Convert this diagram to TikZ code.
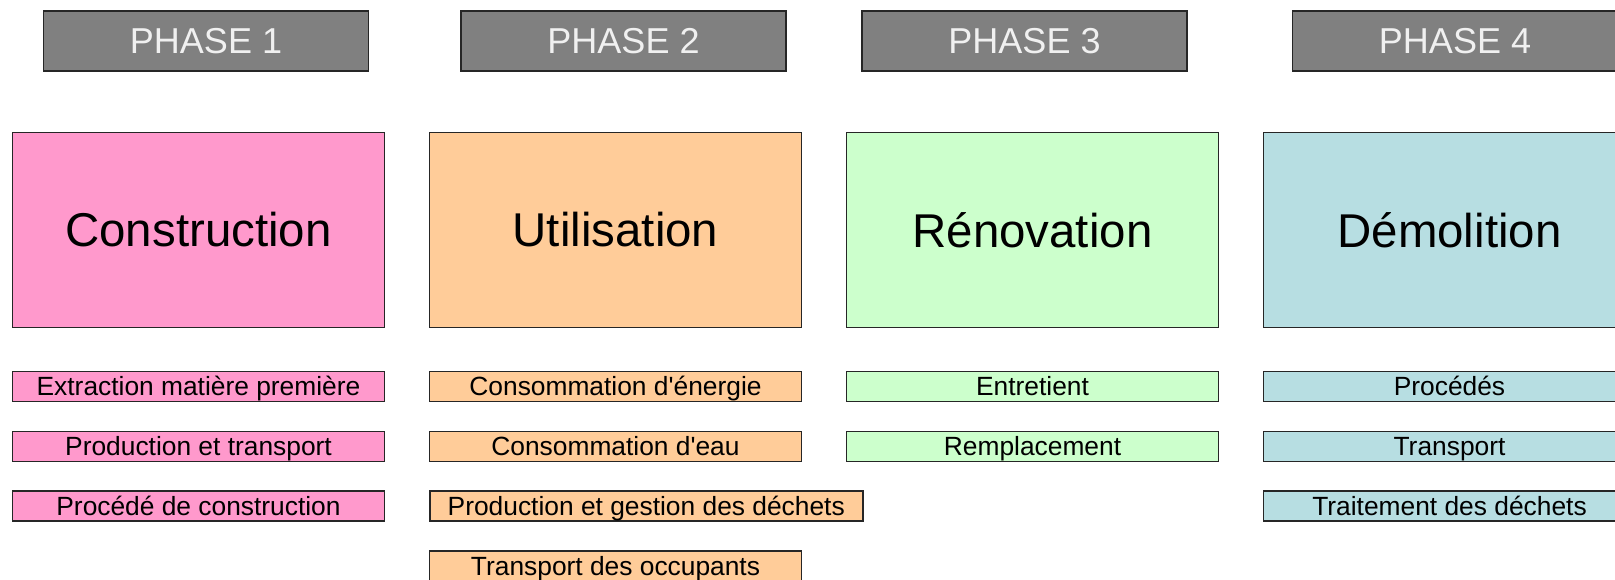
\documentclass[tikz,border=0pt]{standalone}
\usepackage{fontspec}
\setmainfont{Liberation Sans}
\usetikzlibrary{positioning}
\definecolor{phasegray}{HTML}{808080}
\definecolor{constrpink}{HTML}{FF99CC}
\definecolor{utilorange}{HTML}{FFCC99}
\definecolor{renovgreen}{HTML}{CCFFCC}
\definecolor{demolblue}{HTML}{B7DEE2}
\begin{document}
\begin{tikzpicture}[x=0.02cm, y=-0.02cm,
  phasebox/.style={draw=black!85, fill=phasegray, text=white!94!black, minimum width=6.5cm, minimum height=1.2cm, inner sep=0pt, line width=0.9pt, text height=14.7pt, text depth=0pt, font=\fontsize{20.5}{24}\selectfont},
  stagebox/.style={draw=black!85, minimum width=7.44cm, minimum height=3.9cm, inner sep=0pt, line width=0.9pt, font=\fontsize{27}{32}\selectfont},
  itembox/.style={draw=black!85, minimum width=7.44cm, minimum height=0.6cm, inner sep=0pt, line width=0.9pt, text height=10.8pt, text depth=0pt, font=\fontsize{15}{18}\selectfont}
]
\useasboundingbox (0,0) rectangle (1615,580);
\clip (0,0) rectangle (1615,580);
\def\dx{417}
% phase headers
\node[phasebox] (p1) at (206,41) {PHASE 1};
\node[phasebox] (p2) at (623.5,41) {PHASE 2};
\node[phasebox] (p3) at (1024.5,41) {PHASE 3};
\node[phasebox] (p4) at (1455,41) {PHASE 4};
% stages
\node[stagebox, fill=constrpink] (s1) at (198.5,230) {Construction};
\node[stagebox, fill=utilorange] (s2) at (198.5+\dx,230) {Utilisation};
\node[stagebox, fill=renovgreen] (s3) at (198.5+2*\dx,230) {Rénovation};
\node[stagebox, fill=demolblue] (s4) at (198.5+3*\dx,230) {Démolition};
% construction items
\node[itembox, fill=constrpink] (c1) at (198.5,386.5) {Extraction matière première};
\node[itembox, fill=constrpink] (c2) at (198.5,446.5) {Production et transport};
\node[itembox, fill=constrpink] (c3) at (198.5,506) {Procédé de construction};
% utilisation items
\node[itembox, fill=utilorange] (u1) at (198.5+\dx,386.5) {Consommation d\textquotesingle énergie};
\node[itembox, fill=utilorange] (u2) at (198.5+\dx,446.5) {Consommation d\textquotesingle eau};
\node[itembox, fill=utilorange, minimum width=8.66cm, anchor=west] (u3) at (429,506) {Production et gestion des déchets};
\node[itembox, fill=utilorange] (u4) at (198.5+\dx,566) {Transport des occupants};
% renovation items
\node[itembox, fill=renovgreen] (r1) at (198.5+2*\dx,386.5) {Entretient};
\node[itembox, fill=renovgreen] (r2) at (198.5+2*\dx,446.5) {Remplacement};
% demolition items
\node[itembox, fill=demolblue] (d1) at (198.5+3*\dx,386.5) {Procédés};
\node[itembox, fill=demolblue] (d2) at (198.5+3*\dx,446.5) {Transport};
\node[itembox, fill=demolblue] (d3) at (198.5+3*\dx,506) {Traitement des déchets};
\end{tikzpicture}
\end{document}
